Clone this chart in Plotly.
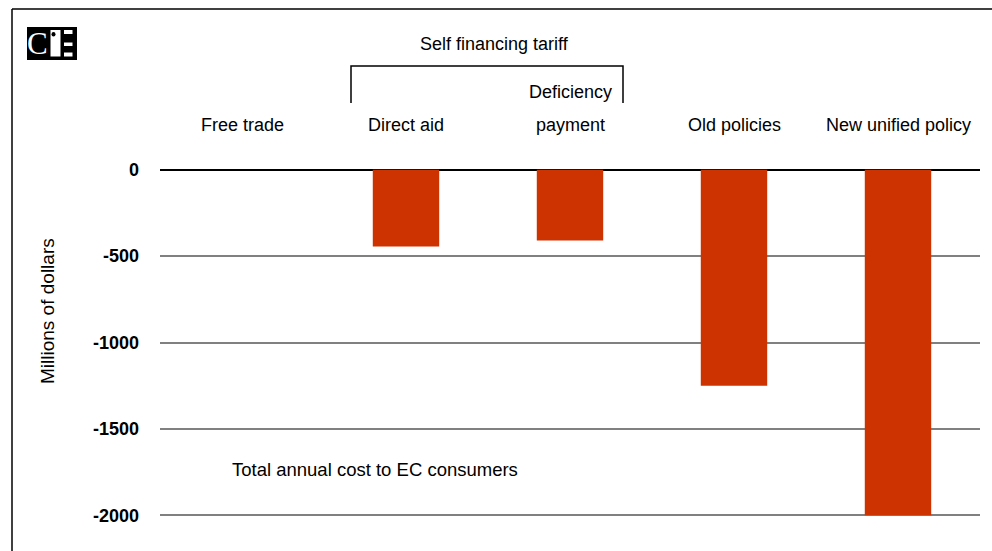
import plotly.graph_objects as go

# Chart data
categories = ["Free trade", "Direct aid", "Deficiency payment", "Old policies", "New unified policy"]
cost_values = [0, -445, -410, -1250, -2000]
label_lines = [["Free trade"], ["Direct aid"], ["Deficiency", "payment"], ["Old policies"], ["New unified policy"]]
tick_values = [0, -500, -1000, -1500, -2000]
tick_labels = ["0", "-500", "-1000", "-1500", "-2000"]

W, H = 992, 551
ML, MR, MT, MB = 160, 12, 168, 34
FONT = "Liberation Sans, Arial, sans-serif"
BAR = "#CC3300"


def px_x(px):
    return (px - ML) / (W - ML - MR)


def px_y(py):
    return (H - MB - py) / (H - MT - MB)


fig = go.Figure()
fig.add_trace(go.Bar(
    x=categories, y=cost_values, width=0.405,
    marker=dict(color=BAR, line=dict(width=0)),
    hoverinfo="x+y", showlegend=False,
))

annotations = []
# category headings above the plot
for cat, lines in zip(categories, label_lines):
    for i, line in enumerate(reversed(lines)):
        annotations.append(dict(
            x=cat, xref="x", y=px_y(125 - 33 * i), yref="paper",
            text=line, showarrow=False, xanchor="center", yanchor="middle",
            font=dict(family=FONT, size=18, color="#000"),
        ))

annotations += [
    dict(x=px_x(494), y=px_y(44), xref="paper", yref="paper", text="Self financing tariff",
         showarrow=False, xanchor="center", yanchor="middle",
         font=dict(family=FONT, size=18, color="#000")),
    dict(x=px_x(230), y=px_y(469), xref="paper", yref="paper", text="Total annual cost to EC consumers",
         showarrow=False, xanchor="left", yanchor="middle",
         font=dict(family=FONT, size=18.5, color="#000")),
    dict(x=px_x(47), y=px_y(311), xref="paper", yref="paper", text="Millions of dollars",
         textangle=-90, showarrow=False, xanchor="center", yanchor="middle",
         font=dict(family=FONT, size=19, color="#000")),
    # logo letter
    dict(x=px_x(37.5), y=px_y(43.5), xref="paper", yref="paper", text="C",
         showarrow=False, xanchor="center", yanchor="middle",
         font=dict(family="Liberation Serif, DejaVu Serif, serif", size=31, color="#fff")),
]


def rect(x0, y0, x1, y1, color, **kw):
    return dict(type="rect", xref="paper", yref="paper",
                x0=px_x(x0), x1=px_x(x1), y0=px_y(y1), y1=px_y(y0),
                fillcolor=color, line=dict(width=0), layer="above", **kw)


shapes = [
    # outer frame (left and top edges)
    dict(type="line", xref="paper", yref="paper", x0=px_x(12), x1=px_x(12),
         y0=px_y(9), y1=px_y(560), line=dict(color="#000", width=1.5)),
    dict(type="line", xref="paper", yref="paper", x0=px_x(12), x1=px_x(1000),
         y0=px_y(9), y1=px_y(9), line=dict(color="#000", width=1.5)),
    # bracket over the self financing options
    dict(type="path", xref="paper", yref="paper",
         path=f"M {px_x(351)},{px_y(103)} L {px_x(351)},{px_y(66)} L {px_x(623)},{px_y(66)} L {px_x(623)},{px_y(103)}",
         line=dict(color="#000", width=1.5)),
    # logo
    rect(27, 27, 77, 60, "#000"),
    rect(50.5, 30, 60.5, 56.5, "#fff"),
    dict(type="circle", xref="paper", yref="paper", x0=px_x(51.5), x1=px_x(55.5),
         y0=px_y(36.5), y1=px_y(32), fillcolor="#000", line=dict(width=0), layer="above"),
    rect(64, 30, 72.5, 34, "#fff"),
    rect(64, 42.5, 72.5, 46, "#fff"),
    rect(64, 52.5, 72.5, 56.5, "#fff"),
]

fig.update_layout(
    width=W, height=H,
    margin=dict(l=ML, r=MR, t=MT, b=MB, pad=0),
    paper_bgcolor="#fff", plot_bgcolor="#fff",
    xaxis=dict(showticklabels=False, showgrid=False, zeroline=False, showline=False, ticks=""),
    yaxis=dict(range=[-2010, 10], tickvals=tick_values, ticktext=tick_labels,
               showgrid=True, gridcolor="#808080", gridwidth=1.5,
               zeroline=True, zerolinecolor="#000", zerolinewidth=2,
               showline=False, ticks="", ticklabelstandoff=20,
               tickfont=dict(family=FONT, size=18, color="#000", weight="bold")),
    annotations=annotations,
    shapes=shapes,
    font=dict(family=FONT),
)

fig.write_html("out.html")
